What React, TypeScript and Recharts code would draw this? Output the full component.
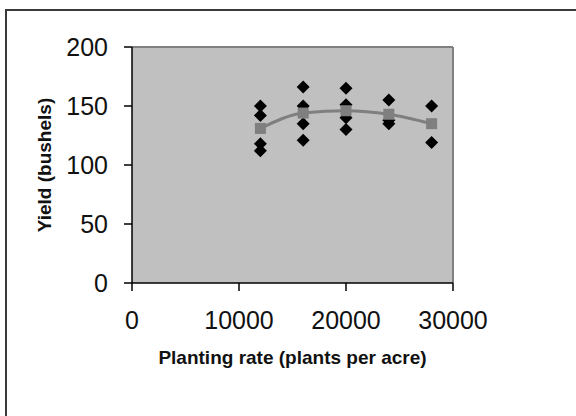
import React from "react";
import {
  ComposedChart, Scatter, Line, XAxis, YAxis, CartesianGrid, ReferenceLine,
} from "recharts";

// planting rates tried (plants per acre)
const rates = [12000, 16000, 20000, 24000, 28000];

// individual plot yields (bushels) at each rate
const yields12k = [150, 142, 118, 112];
const yields16k = [166, 150, 135, 121];
const yields20k = [165, 151, 140, 130];
const yields24k = [155, 138, 135];
const yields28k = [150, 119];

// average yield per rate
const meanYields = [131, 144, 146, 143, 135];

const xTicks = [0, 10000, 20000, 30000];
const yTicks = [0, 50, 100, 150, 200];

const groups = [yields12k, yields16k, yields20k, yields24k, yields28k];
const points = groups.flatMap((g, i) => g.map((y) => ({ x: rates[i], y })));
const means = rates.map((x, i) => ({ x, y: meanYields[i] }));

const FONT = "'Liberation Sans', Arial, sans-serif";

const Diamond = (props: any) => {
  const { cx, cy } = props;
  const r = 6.5;
  return (
    <polygon
      points={`${cx},${cy - r} ${cx + r},${cy} ${cx},${cy + r} ${cx - r},${cy}`}
      fill="#000"
    />
  );
};

const Square = (props: any) => {
  const { cx, cy } = props;
  if (cx == null || cy == null) return null;
  return <rect x={cx - 5.5} y={cy - 5.5} width={11} height={11} fill="#7f7f7f" />;
};

export default function App() {
  return (
    <div style={{ position: "absolute", left: 0, top: 0, width: 576, height: 416, overflow: "hidden", background: "#fff" }}>
      <div
        style={{
          position: "absolute", left: 5, top: 9, width: 640, height: 480,
          border: "2px solid #3a3a3a",
        }}
      />
      <div style={{ position: "absolute", left: 0, top: 0 }}>
        <ComposedChart
          width={576}
          height={416}
          margin={{ top: 47, right: 123, bottom: 73, left: 0 }}
          style={{ fontFamily: FONT }}
        >
          <CartesianGrid fill="#c0c0c0" horizontal={false} vertical={false} />
          <XAxis
            dataKey="x"
            type="number"
            domain={[0, 30000]}
            ticks={xTicks}
            height={60}
            tickSize={8}
            tickMargin={20}
            axisLine={{ stroke: "#000", strokeWidth: 1.5 }}
            tickLine={{ stroke: "#000", strokeWidth: 1.5 }}
            tick={{ fontSize: 25, fill: "#111", fontFamily: FONT }}
            label={{
              value: "Planting rate (plants per acre)",
              position: "bottom",
              offset: 8,
              style: { fontSize: 19, fontWeight: "bold", fill: "#111", fontFamily: FONT },
            }}
          />
          <YAxis
            dataKey="y"
            type="number"
            domain={[0, 200]}
            ticks={yTicks}
            width={132}
            tickSize={8}
            tickMargin={16}
            axisLine={{ stroke: "#000", strokeWidth: 1.5 }}
            tickLine={{ stroke: "#000", strokeWidth: 1.5 }}
            tick={{ fontSize: 25, fill: "#111", fontFamily: FONT }}
            label={{
              value: "Yield (bushels)",
              angle: -90,
              position: "insideLeft",
              offset: 44,
              style: { fontSize: 19, fontWeight: "bold", fill: "#111", fontFamily: FONT, textAnchor: "middle" },
            }}
          />
          <ReferenceLine y={200} stroke="#808080" strokeWidth={2} />
          <ReferenceLine x={30000} stroke="#808080" strokeWidth={2} />
          <Scatter data={points} shape={<Diamond />} isAnimationActive={false} />
          <Line
            data={means}
            dataKey="y"
            type="monotone"
            stroke="#7f7f7f"
            strokeWidth={3}
            dot={<Square />}
            activeDot={false}
            isAnimationActive={false}
          />
        </ComposedChart>
      </div>
    </div>
  );
}
